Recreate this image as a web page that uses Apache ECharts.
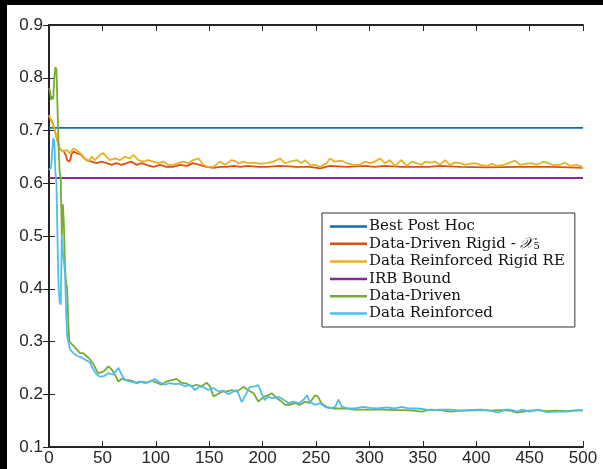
<!DOCTYPE html>
<html><head><meta charset="utf-8">
<script src="https://cdn.jsdelivr.net/npm/echarts@6/dist/echarts.min.js"></script>
<style>html,body{margin:0;padding:0;background:#fff}#c{width:603px;height:469px}</style>
</head><body><div id="c"></div>
<script>
const xTicks = [0,50,100,150,200,250,300,350,400,450,500];
const yTicks = [0.1,0.2,0.3,0.4,0.5,0.6,0.7,0.8,0.9];
const seriesNames = ['Best Post Hoc','Data-Driven Rigid - X5','Data Reinforced Rigid RE','IRB Bound','Data-Driven','Data Reinforced'];
const bestPostHoc = [[0,0.705],[500,0.705]];
const irbBound = [[0,0.61],[500,0.61]];
const ddRigid = [[0,0.726],[2,0.72],[4,0.71],[6,0.695],[8,0.68],[10,0.665],[12,0.662],[14,0.66],[16,0.652],[17,0.643],[18,0.640],[19,0.641],[20,0.645],[21,0.655],[23,0.660],[26,0.657],[30,0.654],[35,0.644],[40,0.641],[44.6,0.638],[49,0.641],[54,0.638],[58.7,0.635],[63,0.638],[68,0.635],[72.7,0.638],[77,0.641],[82,0.635],[86.8,0.638],[91.4,0.635],[97.7,0.631],[104,0.635],[110,0.631],[116,0.631],[122.6,0.635],[129,0.633],[135,0.638],[141,0.635],[147.6,0.631],[154,0.629],[160,0.631],[166,0.631],[173,0.633],[179,0.631],[186,0.633],[196,0.631],[204,0.631],[216,0.633],[232,0.631],[244,0.631],[254,0.628],[263,0.633],[279,0.631],[296,0.633],[305,0.631],[314,0.633],[330,0.631],[344,0.631],[356,0.631],[366,0.633],[385,0.631],[410,0.630],[441,0.631],[472,0.631],[500,0.629]];
const drRigidRE = [[0,0.729],[2,0.72],[4,0.710],[7,0.688],[10,0.666],[13,0.660],[16.5,0.663],[19.7,0.657],[22.8,0.666],[24.3,0.669],[27.5,0.660],[30.6,0.654],[33.7,0.647],[36.8,0.641],[40,0.650],[43,0.644],[47.8,0.654],[50.9,0.657],[54,0.650],[57,0.644],[61.8,0.647],[66.5,0.644],[71,0.650],[76,0.647],[79,0.654],[83.6,0.644],[88,0.641],[93,0.644],[97.7,0.641],[102,0.638],[107,0.641],[111.7,0.635],[116.4,0.635],[121,0.638],[126,0.641],[130.5,0.638],[135,0.644],[140,0.647],[144.5,0.635],[149,0.631],[154,0.631],[160,0.641],[165,0.635],[171,0.644],[176,0.641],[177.3,0.637],[182,0.641],[186.6,0.638],[191.3,0.639],[197.6,0.637],[203.8,0.638],[210,0.641],[216.3,0.647],[221,0.638],[225.7,0.641],[232,0.644],[236.6,0.638],[239.7,0.644],[244.4,0.635],[249,0.635],[253.7,0.631],[260,0.638],[263,0.647],[267.8,0.641],[274,0.643],[278.7,0.638],[285,0.635],[291,0.635],[296,0.641],[300.5,0.638],[305,0.641],[310,0.647],[314.6,0.638],[319,0.644],[324,0.633],[330,0.644],[335,0.633],[339.6,0.641],[344,0.638],[349,0.635],[352,0.641],[356.7,0.639],[361.4,0.641],[366,0.635],[370.8,0.644],[375.5,0.635],[380,0.639],[385,0.638],[389.6,0.635],[394,0.637],[399,0.638],[404,0.635],[410,0.633],[415,0.637],[419,0.633],[425.5,0.635],[431.6,0.639],[436,0.643],[441,0.635],[447,0.637],[452,0.638],[456.8,0.635],[463,0.641],[467.5,0.638],[472,0.635],[478.6,0.635],[483,0.639],[488,0.633],[494,0.635],[499,0.631],[500,0.628]];
const dataDriven = [[0,0.78],[1,0.775],[2,0.758],[3,0.765],[4,0.76],[5,0.80],[6,0.82],[7,0.815],[8,0.74],[9,0.67],[10,0.62],[11,0.61],[12,0.50],[13,0.56],[14,0.52],[15,0.44],[16,0.41],[17,0.40],[18,0.34],[19,0.30],[20,0.297],[22.8,0.292],[26,0.285],[29,0.278],[32,0.278],[35.3,0.272],[38.4,0.266],[41.5,0.257],[46,0.24],[50.9,0.243],[55.6,0.253],[58.7,0.247],[61.8,0.237],[65,0.224],[68,0.229],[72.7,0.227],[77.4,0.226],[82,0.221],[86.8,0.224],[91.4,0.222],[96,0.226],[100.8,0.222],[105.5,0.218],[110,0.224],[115,0.227],[119.5,0.229],[124,0.222],[129,0.220],[133.6,0.215],[138,0.218],[143,0.215],[147.6,0.222],[150.7,0.215],[154,0.196],[157,0.199],[162,0.205],[166,0.205],[171,0.208],[176,0.205],[182,0.214],[187,0.207],[191.6,0.202],[196,0.186],[201,0.195],[205,0.198],[208.5,0.202],[213,0.193],[218,0.186],[221,0.180],[225.6,0.180],[230,0.183],[235,0.180],[240,0.186],[244,0.183],[249,0.198],[252,0.195],[255,0.183],[260,0.176],[266,0.173],[272,0.173],[279,0.173],[285,0.171],[294,0.171],[304,0.171],[313,0.171],[322,0.170],[331,0.170],[341,0.169],[349,0.167],[357,0.171],[366,0.170],[376,0.167],[385,0.169],[394,0.170],[404,0.171],[413,0.169],[421,0.170],[432,0.169],[438,0.165],[450,0.169],[458,0.170],[466,0.168],[475,0.169],[485,0.168],[494,0.170],[500,0.169]];
const dataReinforced = [[0,0.625],[1,0.625],[2,0.63],[3,0.66],[4,0.685],[5,0.68],[6,0.62],[7,0.60],[8,0.49],[9,0.40],[10,0.375],[11,0.37],[12,0.50],[13,0.47],[14,0.45],[15,0.43],[16,0.36],[17,0.31],[19.7,0.285],[22.8,0.278],[26,0.273],[29,0.271],[33.7,0.266],[38.4,0.26],[41.5,0.247],[44.6,0.238],[47.8,0.233],[52,0.235],[55.6,0.24],[60,0.237],[65,0.25],[68,0.237],[71,0.227],[76,0.224],[80.6,0.222],[85,0.224],[90,0.221],[94.6,0.224],[99,0.229],[104,0.222],[108.6,0.218],[113,0.221],[118,0.219],[122.6,0.220],[127,0.215],[132,0.218],[136.7,0.208],[141,0.215],[146,0.212],[149,0.208],[154,0.212],[158.7,0.205],[163,0.207],[168,0.200],[172.6,0.205],[176,0.208],[180.5,0.185],[185,0.202],[188,0.214],[193,0.215],[196,0.2175],[199,0.202],[202,0.189],[205,0.195],[210,0.192],[215,0.195],[220,0.189],[224,0.183],[229,0.186],[233.6,0.183],[238,0.189],[241.6,0.198],[244,0.186],[249,0.180],[254,0.183],[258.6,0.176],[263,0.173],[268,0.176],[271,0.190],[274,0.177],[280,0.173],[286.6,0.173],[294,0.176],[300,0.174],[308,0.173],[316,0.175],[324,0.173],[330,0.176],[336,0.173],[344,0.173],[350,0.172],[357,0.170],[366,0.171],[376,0.171],[385,0.169],[394,0.169],[404,0.170],[413,0.169],[421,0.165],[427,0.171],[432,0.171],[438,0.167],[443,0.171],[450,0.167],[458,0.171],[466,0.166],[475,0.167],[485,0.167],[494,0.169],[500,0.170]];
const colors = ['#0072BD','#D95319','#EDB120','#7E2F8E','#77AC30','#4DBEEE'];
const seriesData = [bestPostHoc, ddRigid, drRigidRE, irbBound, dataDriven, dataReinforced];

const axisCol = '#262626';
const labelFont = {fontFamily:'Liberation Sans', fontSize:17, color:axisCol};
const chart = echarts.init(document.getElementById('c'));
chart.setOption({
  animation:false,
  backgroundColor:'#fff',
  grid:{left:49,right:20,top:25,bottom:22},
  xAxis:[
    {type:'value',min:xTicks[0],max:xTicks[xTicks.length-1],interval:50,position:'bottom',
     axisLine:{lineStyle:{color:axisCol,width:2}},axisTick:{inside:true,length:6,lineStyle:{color:axisCol,width:1}},
     axisLabel:Object.assign({margin:3},labelFont),splitLine:{show:false}},
    {type:'value',min:xTicks[0],max:xTicks[xTicks.length-1],interval:50,position:'top',
     axisLine:{lineStyle:{color:axisCol,width:2}},axisTick:{inside:true,length:6,lineStyle:{color:axisCol,width:1}},
     axisLabel:{show:false},splitLine:{show:false}}
  ],
  yAxis:[
    {type:'value',min:yTicks[0],max:yTicks[yTicks.length-1],interval:0.1,position:'left',
     axisLine:{lineStyle:{color:axisCol,width:2}},axisTick:{inside:true,length:6,lineStyle:{color:axisCol,width:1}},
     axisLabel:Object.assign({margin:6,formatter:v=>v.toFixed(1)},labelFont),splitLine:{show:false}},
    {type:'value',min:yTicks[0],max:yTicks[yTicks.length-1],interval:0.1,position:'right',
     axisLine:{lineStyle:{color:axisCol,width:2}},axisTick:{inside:true,length:6,lineStyle:{color:axisCol,width:1}},
     axisLabel:{show:false},splitLine:{show:false}}
  ],
  legend:{
    orient:'vertical',left:322,top:213,width:251,
    backgroundColor:'#fff',borderColor:'#333',borderWidth:1,
    padding:[6,10,6,8],itemGap:2.3,itemWidth:37,itemHeight:2.5,icon:'rect',
    data:seriesNames,
    textStyle:{fontFamily:'DejaVu Serif',fontSize:15,color:'#111',padding:[0,0,0,-3],
      rich:{n:{fontFamily:'DejaVu Serif',fontSize:15,color:'#111'},
            x:{fontFamily:'DejaVu Serif',fontStyle:'italic',fontSize:15,color:'#111'},
            s:{fontFamily:'DejaVu Serif',fontSize:10,color:'#111',verticalAlign:'bottom',padding:[6,0,0,0]}}},
    formatter:function(name){
      if(name==='Data-Driven Rigid - X5') return '{n|Data-Driven Rigid - }{x|𝒳}{s|5}';
      return name;
    }
  },
  graphic:[
    {type:'rect',shape:{x:0,y:0,width:603,height:5},style:{fill:'#000'},silent:true,z:100},
    {type:'rect',shape:{x:0,y:0,width:7,height:469},style:{fill:'#000'},silent:true,z:100}
  ],
  series:seriesNames.map((n,i)=>({
    name:n,type:'line',data:seriesData[i],showSymbol:false,symbol:'none',
    lineStyle:{color:colors[i],width:1.8},itemStyle:{color:colors[i]},
    xAxisIndex:0,yAxisIndex:0,clip:true
  }))
});
</script></body></html>
